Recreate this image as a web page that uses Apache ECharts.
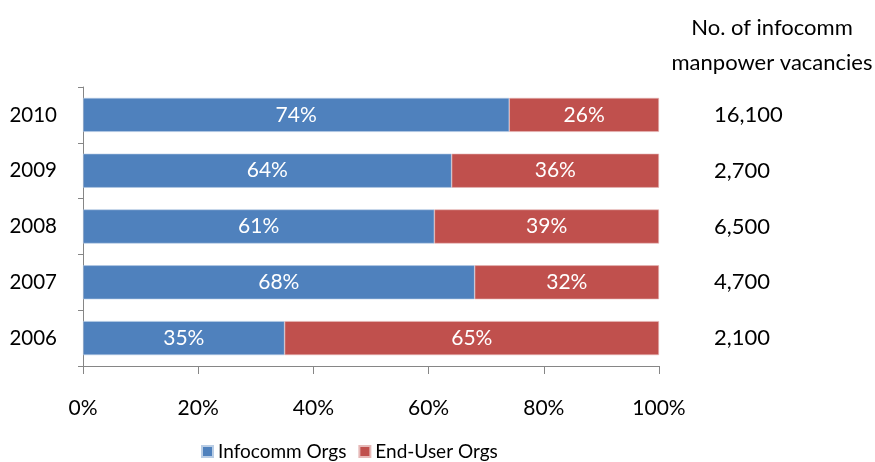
<!DOCTYPE html>
<html>
<head>
<meta charset="utf-8">
<script src="https://cdn.jsdelivr.net/npm/echarts@6/dist/echarts.min.js"></script>
<style>
  html, body { margin: 0; padding: 0; background: #fff; }
  #chart { width: 875px; height: 462px; }
</style>
</head>
<body>
<div id="chart"></div>
<script>
// Years, bottom to top as drawn on the category axis
const years = ['2006', '2007', '2008', '2009', '2010'];
// Share of vacancies (%) by organisation type
const infocommOrgs = [35, 68, 61, 64, 74];
const endUserOrgs = [65, 32, 39, 36, 26];
// Total infocomm manpower vacancies per year
const vacancies = ['2,100', '4,700', '6,500', '2,700', '16,100'];
const xTicks = [0, 20, 40, 60, 80, 100];

const FONT = 'Lato';
const chart = echarts.init(document.getElementById('chart'), null, { renderer: 'canvas' });

const barLabel = {
  show: true,
  position: 'inside',
  color: '#fff',
  fontFamily: FONT,
  fontSize: 21,
  formatter: p => p.value + '%'
};

chart.setOption({
  animation: false,
  textStyle: { fontFamily: FONT },
  title: {
    text: 'No. of infocomm\nmanpower vacancies',
    left: 767,
    top: 5,
    textAlign: 'center',
    textStyle: { fontFamily: FONT, fontSize: 22, fontWeight: 'normal', color: '#000', lineHeight: 35 }
  },
  legend: {
    top: 437,
    left: 196,
    itemWidth: 11,
    itemHeight: 11,
    itemGap: 12,
    icon: 'rect',
    textStyle: { fontFamily: FONT, fontSize: 19, color: '#000' },
    data: ['Infocomm Orgs', 'End-User Orgs']
  },
  grid: { left: 83, right: 216, top: 87, bottom: 96, containLabel: false },
  xAxis: {
    type: 'value',
    min: xTicks[0],
    max: xTicks[xTicks.length - 1],
    interval: 20,
    axisLine: { show: true, lineStyle: { color: '#868686' } },
    axisTick: { show: true, length: 8, lineStyle: { color: '#868686' } },
    splitLine: { show: false },
    axisLabel: { color: '#000', fontSize: 21, fontFamily: FONT, margin: 32, formatter: v => v + '%' }
  },
  yAxis: [
    {
      type: 'category',
      data: years,
      axisLine: { show: true, lineStyle: { color: '#868686' } },
      axisTick: { show: true, length: 5, lineStyle: { color: '#868686' } },
      axisLabel: { color: '#000', fontSize: 20.5, fontFamily: FONT, margin: 26 }
    },
    {
      type: 'category',
      data: vacancies,
      position: 'right',
      axisLine: { show: false },
      axisTick: { show: false },
      axisLabel: { color: '#000', fontSize: 22, fontFamily: FONT, margin: 55, align: 'left' }
    }
  ],
  series: [
    {
      name: 'Infocomm Orgs',
      type: 'bar',
      stack: 'share',
      data: infocommOrgs,
      barCategoryGap: '39%',
      itemStyle: { color: '#4F81BD', borderColor: '#B9CDE5', borderWidth: 0.6 },
      label: barLabel
    },
    {
      name: 'End-User Orgs',
      type: 'bar',
      stack: 'share',
      data: endUserOrgs,
      barCategoryGap: '39%',
      itemStyle: { color: '#C0504D', borderColor: '#E6B9B8', borderWidth: 0.6 },
      label: barLabel
    }
  ]
});
</script>
</body>
</html>
